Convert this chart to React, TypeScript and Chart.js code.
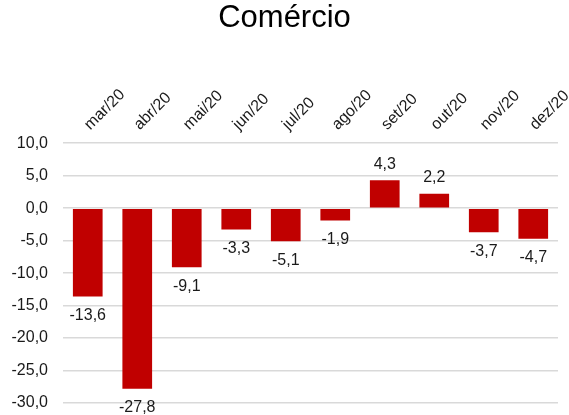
import React, { useEffect, useRef } from "react";
import { Chart, registerables } from "chart.js";

Chart.register(...registerables);

const categories = ["mar/20", "abr/20", "mai/20", "jun/20", "jul/20", "ago/20", "set/20", "out/20", "nov/20", "dez/20"];
const values = [-13.6, -27.8, -9.1, -3.3, -5.1, -1.9, 4.3, 2.2, -3.7, -4.7];
const yMin = -30;
const yMax = 10;
const yStep = 5;
const title = "Comércio";

const fmt = (v: number) => v.toFixed(1).replace(".", ",");

const valueLabels = {
  id: "valueLabels",
  afterDatasetsDraw(chart: any) {
    const ctx = chart.ctx;
    const meta = chart.getDatasetMeta(0);
    ctx.save();
    ctx.font = "16px 'Liberation Sans', Arial, sans-serif";
    ctx.fillStyle = "#1a1a1a";
    ctx.textAlign = "center";
    ctx.textBaseline = "middle";
    meta.data.forEach((el: any, i: number) => {
      const v = values[i];
      const y = v < 0 ? el.y + 19 : el.y - 16;
      ctx.fillText(fmt(v), el.x, y);
    });
    ctx.restore();
  },
};

export default function App() {
  const ref = useRef<HTMLCanvasElement | null>(null);
  useEffect(() => {
    if (!ref.current) return;
    const chart = new Chart(ref.current, {
      type: "bar",
      data: {
        labels: categories,
        datasets: [
          {
            data: values,
            backgroundColor: "#C00000",
            barPercentage: 0.6,
            categoryPercentage: 1,
          },
        ],
      },
      options: {
        animation: false,
        responsive: false,
        maintainAspectRatio: false,
        layout: { padding: { left: 11, right: 11, bottom: 12, top: 0 } },
        plugins: {
          legend: { display: false },
          tooltip: { enabled: false },
          title: {
            display: true,
            text: title,
            color: "#000",
            font: { family: "'Liberation Sans', Arial, sans-serif", size: 31, weight: "normal" },
            padding: { top: 0, bottom: 46 },
          },
        },
        scales: {
          x: {
            position: "top",
            grid: { display: false },
            border: { display: false },
            afterFit: (scale: any) => {
              scale.height = 60;
              scale.paddingLeft = 0;
              scale.paddingRight = 0;
            },
            ticks: {
              autoSkip: false,
              minRotation: 45,
              maxRotation: 45,
              padding: 1,
              labelOffset: 13,
              color: "#1a1a1a",
              font: { family: "'Liberation Sans', Arial, sans-serif", size: 16 },
            },
          },
          y: {
            min: yMin,
            max: yMax,
            grid: { color: "#D9D9D9", lineWidth: 1.5, drawTicks: false },
            border: { display: false },
            afterFit: (scale: any) => {
              scale.width = 52;
              scale.paddingTop = 0;
              scale.paddingBottom = 0;
            },
            ticks: {
              stepSize: yStep,
              padding: 15,
              color: "#1a1a1a",
              font: { family: "'Liberation Sans', Arial, sans-serif", size: 16 },
              callback: (v: any) => fmt(Number(v)),
            },
          },
        },
      },
      plugins: [valueLabels],
    });
    return () => chart.destroy();
  }, []);
  return (
    <div style={{ position: "fixed", left: 0, top: 0, width: 569, height: 415, background: "#fff" }}>
      <canvas ref={ref} width={569} height={415} style={{ width: 569, height: 415, display: "block" }} />
    </div>
  );
}
